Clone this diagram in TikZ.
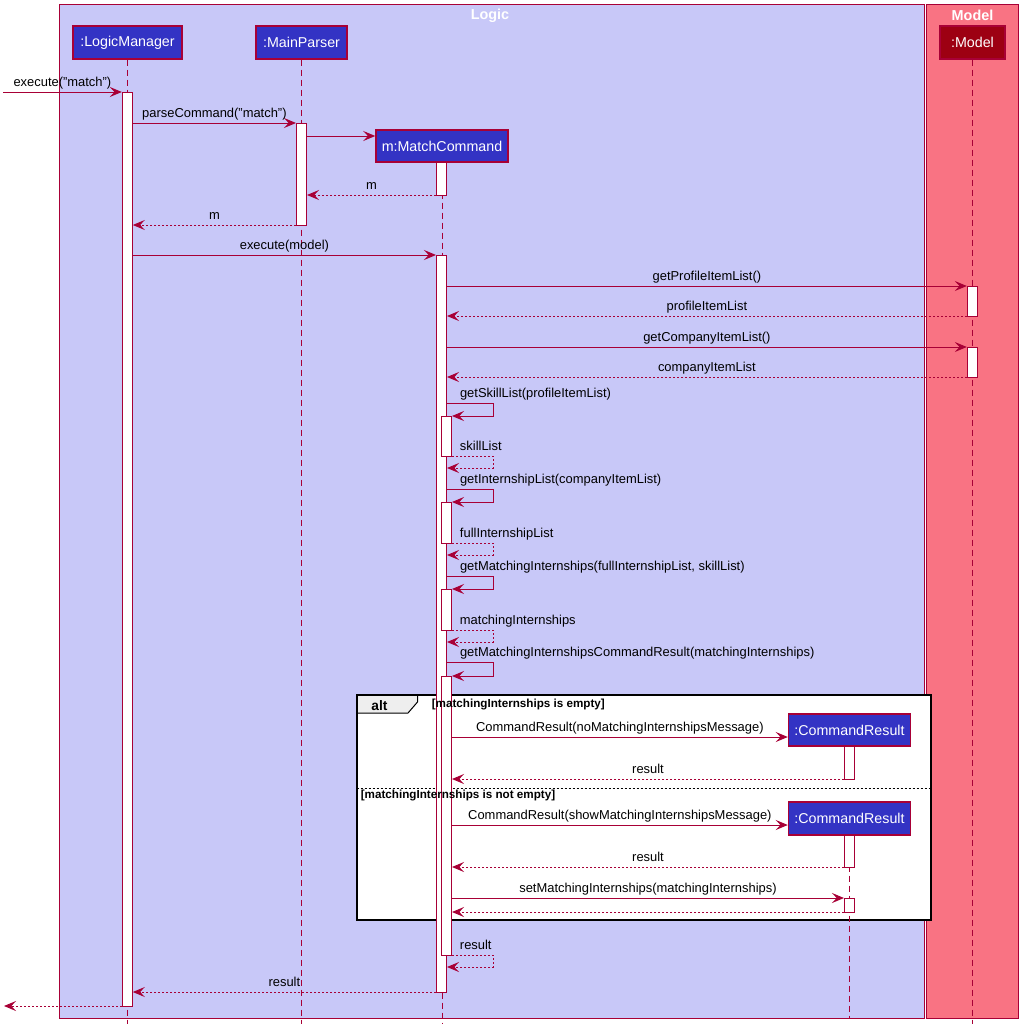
\documentclass[tikz,border=0pt]{standalone}
\usepackage{fontspec}
\setmainfont{Liberation Sans}
\usetikzlibrary{arrows.meta,calc}
\definecolor{lc}{HTML}{A80036}
\definecolor{lav}{HTML}{C8C8F8}
\definecolor{pinkbg}{HTML}{F97383}
\definecolor{pblue}{HTML}{3333C4}
\definecolor{mred}{HTML}{9D0012}
\definecolor{tabgray}{HTML}{EEEEEE}
\begin{document}
\begin{tikzpicture}[x=0.75pt,y=-0.75pt,
  grp/.style={draw=lc, line width=0.75pt},
  grptitle/.style={text=white, font=\bfseries\fontsize{10.8}{12}\selectfont, inner sep=0pt},
  part/.style={draw=lc, line width=1.1pt, fill=pblue, text=white, font=\fontsize{10.7}{12}\selectfont, inner sep=0pt},
  life/.style={draw=lc, line width=0.75pt, dash pattern=on 4.5pt off 3pt},
  act/.style={draw=lc, fill=white, line width=0.75pt, inner sep=0pt, minimum width=7.5pt, anchor=north},
  msg/.style={draw=lc, line width=0.75pt, -{Stealth[length=9pt,width=7.5pt,inset=3.5pt]}},
  ret/.style={msg, dash pattern=on 1.5pt off 1.5pt},
  lbl/.style={font=\fontsize{9.7}{11.6}\selectfont, inner sep=0pt, anchor=base, yshift=4pt},
  slbl/.style={lbl, anchor=base west, xshift=9.4pt},
  rlbl/.style={lbl, anchor=base west, xshift=5.6pt},
  guard/.style={font=\bfseries\fontsize{8.75}{10.5}\selectfont, inner sep=0pt, anchor=west}
]
\useasboundingbox (0,0) rectangle (1028,1035);
\fill[white] (0,0) rectangle (1028,1035);

% groups
\draw[grp, fill=lav] (59.5,4.5) rectangle (924.5,1018);
\draw[grp, fill=pinkbg] (926.5,4.5) rectangle (1018.5,1018);
\node[grptitle] (tLogic) at (490,15.5) {Logic};
\node[grptitle] (tModel) at (972.5,15.5) {Model};

% alt frame
\fill[white] (356.5,695) rectangle (930.5,920);
\draw[line width=0.75pt, fill=tabgray] (356.5,695) -- (417.5,695) -- (417.5,702) -- (408,713) -- (356.5,713);
\draw[line width=0.75pt, dash pattern=on 1.5pt off 1.5pt] (356.5,788) -- (930.5,788);
\draw[line width=1.5pt] (356.5,695) rectangle (930.5,920);
\node[font=\bfseries\fontsize{10.3}{12}\selectfont, inner sep=0pt] (altlbl) at (379.5,705.5) {alt};

% participants
\node[part, minimum width={109*0.75pt}, minimum height={33*0.75pt}] (LM) at (127.5,42.5) {:LogicManager};
\node[part, minimum width={91*0.75pt}, minimum height={33*0.75pt}] (MP) at (301.5,42.5) {:MainParser};
\node[part, minimum width={132*0.75pt}, minimum height={32*0.75pt}] (MC) at (442,146) {m:MatchCommand};
\node[part, fill=mred, minimum width={65*0.75pt}, minimum height={33*0.75pt}] (MD) at (972.5,42.5) {:Model};
\node[part, minimum width={122*0.75pt}, minimum height={32*0.75pt}] (CR1) at (849.5,730) {:CommandResult};
\node[part, minimum width={122*0.75pt}, minimum height={33*0.75pt}] (CR2) at (849.5,818.5) {:CommandResult};

% lifelines
\draw[life] (LM.south) -- (LM.south |- 0,1024);
\draw[life] (MP.south) -- (MP.south |- 0,1024);
\draw[life] (MC.south) -- (MC.south |- 0,1024);
\draw[life] (MD.south) -- (MD.south |- 0,1024);
\draw[life] (CR2.south) -- (CR2.south |- 0,1019);

% activations
\node[act, minimum height={(1006-92)*0.75pt}] (aLM) at (127.3,92) {};
\node[act, minimum height={(225-123)*0.75pt}] (aMP) at (301.5,123) {};
\node[act, minimum height={(195-162)*0.75pt}] (aMC0) at (441.5,162) {};
\node[act, minimum height={(992-255)*0.75pt}] (aMC) at (441.5,255) {};
\node[act, minimum height={(316-286)*0.75pt}] (aMD1) at (972.3,286) {};
\node[act, minimum height={(377-347)*0.75pt}] (aMD2) at (972.3,347) {};
\node[act, minimum height={(456-416)*0.75pt}] (n1) at (446.5,416) {};
\node[act, minimum height={(543-502)*0.75pt}] (n2) at (446.5,502) {};
\node[act, minimum height={(630-589)*0.75pt}] (n3) at (446.5,589) {};
\node[act, minimum height={(955-676)*0.75pt}] (n4) at (446.5,676) {};
\node[act, minimum height={(779-746)*0.75pt}] (aCR1) at (849.5,746) {};
\node[act, minimum height={(867-835)*0.75pt}] (aCR2) at (849.5,835) {};
\node[act, minimum height={(912-898)*0.75pt}] (aCR3) at (849.5,898) {};

% guards (drawn over the activation bars)
\node[guard] (g1) at (431.5,705) {[matchingInternships is empty]};
\node[guard] (g2) at (360.5,795) {[matchingInternships is not empty]};

% messages
\coordinate (start) at (3,92);
\coordinate (finish) at (4,1006);
\draw[msg] (start) -- node[lbl, midway]{execute("match")} (aLM.west |- start);
\draw[msg] (aLM.east |- 0,123) -- node[lbl, midway]{parseCommand("match")} (aMP.west |- 0,123);
\draw[msg] (aMP.east |- 0,136) -- (MC.west |- 0,136);
\draw[ret] (aMC0.west |- 0,195) -- node[lbl, midway]{m} (aMP.east |- 0,195);
\draw[ret] (aMP.west |- 0,225) -- node[lbl, midway]{m} (aLM.east |- 0,225);
\draw[msg] (aLM.east |- 0,255) -- node[lbl, midway]{execute(model)} (aMC.west |- 0,255);
\draw[msg] (aMC.east |- 0,286) -- node[lbl, midway]{getProfileItemList()} (aMD1.west |- 0,286);
\draw[ret] (aMD1.west |- 0,316) -- node[lbl, midway]{profileItemList} (aMC.east |- 0,316);
\draw[msg] (aMC.east |- 0,347) -- node[lbl, midway]{getCompanyItemList()} (aMD2.west |- 0,347);
\draw[ret] (aMD2.west |- 0,377) -- node[lbl, midway]{companyItemList} (aMC.east |- 0,377);

\draw[msg] (aMC.east |- 0,403) node[slbl]{getSkillList(profileItemList)} -- (493,403) -- (493,416) -- (n1.east |- 0,416);
\draw[ret] (n1.east |- 0,456) node[rlbl]{skillList} -- (493,456) -- (493,468) -- (aMC.east |- 0,468);
\draw[msg] (aMC.east |- 0,489) node[slbl]{getInternshipList(companyItemList)} -- (493,489) -- (493,502) -- (n2.east |- 0,502);
\draw[ret] (n2.east |- 0,543) node[rlbl]{fullInternshipList} -- (493,543) -- (493,555) -- (aMC.east |- 0,555);
\draw[msg] (aMC.east |- 0,576) node[slbl]{getMatchingInternships(fullInternshipList, skillList)} -- (493,576) -- (493,589) -- (n3.east |- 0,589);
\draw[ret] (n3.east |- 0,630) node[rlbl]{matchingInternships} -- (493,630) -- (493,642) -- (aMC.east |- 0,642);
\draw[msg] (aMC.east |- 0,662) node[slbl]{getMatchingInternshipsCommandResult(matchingInternships)} -- (493,662) -- (493,676) -- (n4.east |- 0,676);

\draw[msg] (n4.east |- 0,737) -- node[lbl, midway]{CommandResult(noMatchingInternshipsMessage)} (CR1.west |- 0,737);
\draw[ret] (aCR1.west |- 0,779) -- node[lbl, midway]{result} (n4.east |- 0,779);
\draw[msg] (n4.east |- 0,825) -- node[lbl, midway]{CommandResult(showMatchingInternshipsMessage)} (CR2.west |- 0,825);
\draw[ret] (aCR2.west |- 0,867) -- node[lbl, midway]{result} (n4.east |- 0,867);
\draw[msg] (n4.east |- 0,898) -- node[lbl, midway]{setMatchingInternships(matchingInternships)} (aCR3.west |- 0,898);
\draw[ret] (aCR3.west |- 0,912) -- (n4.east |- 0,912);

\draw[ret] (n4.east |- 0,955) node[rlbl]{result} -- (493,955) -- (493,967) -- (aMC.east |- 0,967);
\draw[ret] (aMC.west |- 0,992) -- node[lbl, midway]{result} (aLM.east |- 0,992);
\draw[ret] (aLM.west |- finish) -- (finish);
\end{tikzpicture}
\end{document}
